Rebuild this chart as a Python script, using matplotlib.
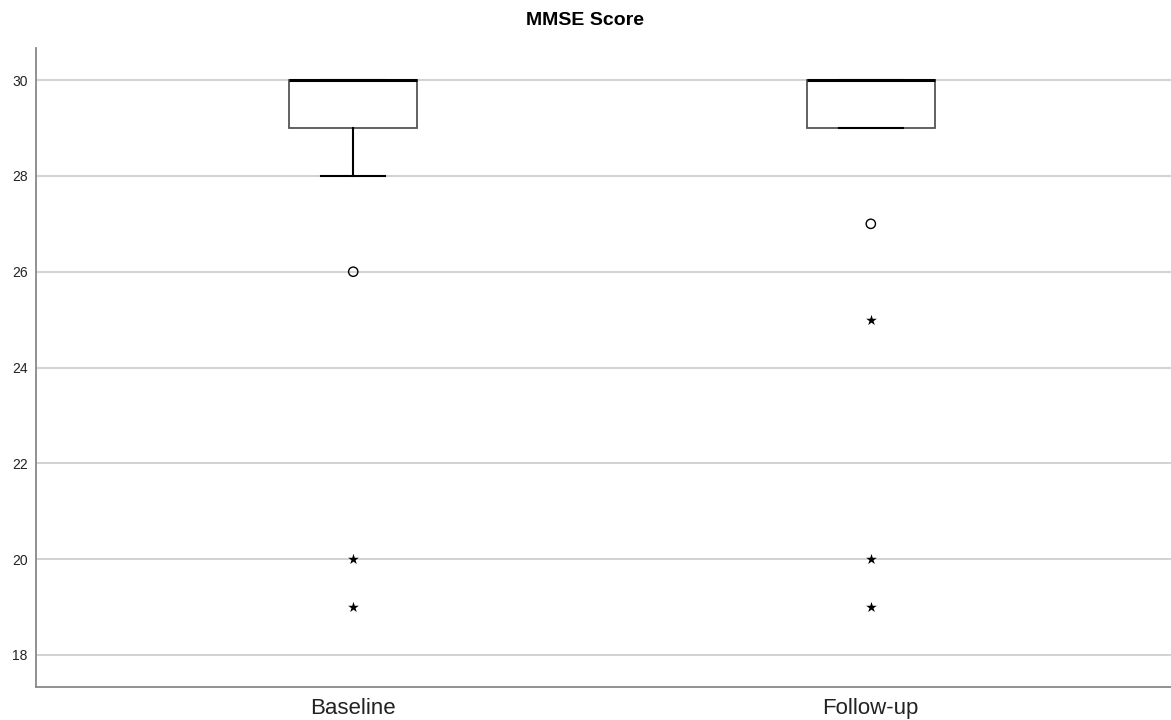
import numpy as np
import matplotlib.pyplot as plt

plt.rcParams['font.family'] = ['Liberation Sans', 'DejaVu Sans']

groups = ['Baseline', 'Follow-up']
q1 = [29, 29]
med = [30, 30]
q3 = [30, 30]
whislo = [28, 29]
whishi = [30, 30]
circle_outliers = [[26], [27]]
star_outliers = [[20, 19], [25, 20, 19]]

positions = [1, 2]
width = 0.248

fig = plt.figure(figsize=(11.71, 7.2), dpi=100)
ax = fig.add_axes([0.0307, 0.0458, 0.9693, 0.8875])

# gridlines behind boxes
ax.set_axisbelow(True)
ax.yaxis.grid(True, color='#cfcfcf', linewidth=1.3)

stats = []
for i in range(len(groups)):
    stats.append({
        'label': groups[i],
        'q1': q1[i], 'med': med[i], 'q3': q3[i],
        'whislo': whislo[i], 'whishi': whishi[i],
        'fliers': [],
    })

ax.bxp(stats, positions=positions, widths=width, showfliers=False,
       patch_artist=True,
       boxprops=dict(facecolor='white', edgecolor='#555555', linewidth=1.3),
       medianprops=dict(color='black', linewidth=2.2),
       whiskerprops=dict(color='black', linewidth=1.5),
       capprops=dict(color='black', linewidth=1.5),
       capwidths=width / 2)

for i, p in enumerate(positions):
    ax.scatter([p] * len(circle_outliers[i]), circle_outliers[i], marker='o',
               s=45, facecolors='none', edgecolors='black', linewidths=1.0, zorder=5)
    ax.scatter([p] * len(star_outliers[i]), star_outliers[i], marker='*',
               s=65, color='black', linewidths=0, zorder=5)

ax.set_xlim(0.387, 2.58)
ax.set_ylim(17.33, 30.67)
ax.set_yticks(np.arange(18, 31, 2))
ax.set_xticks(positions)
ax.set_xticklabels(groups, fontsize=16)
ax.tick_params(axis='y', length=0, labelsize=10, pad=6, colors='#222222')
ax.tick_params(axis='x', length=0, pad=8, colors='#222222')

for side in ['top', 'right']:
    ax.spines[side].set_visible(False)
for side in ['left', 'bottom']:
    ax.spines[side].set_color('#888888')
    ax.spines[side].set_linewidth(1.3)

fig.text(0.5, 0.972, 'MMSE Score', fontsize=14, fontweight='bold',
         ha='center', va='center')

fig.savefig('out.png', dpi=100)
